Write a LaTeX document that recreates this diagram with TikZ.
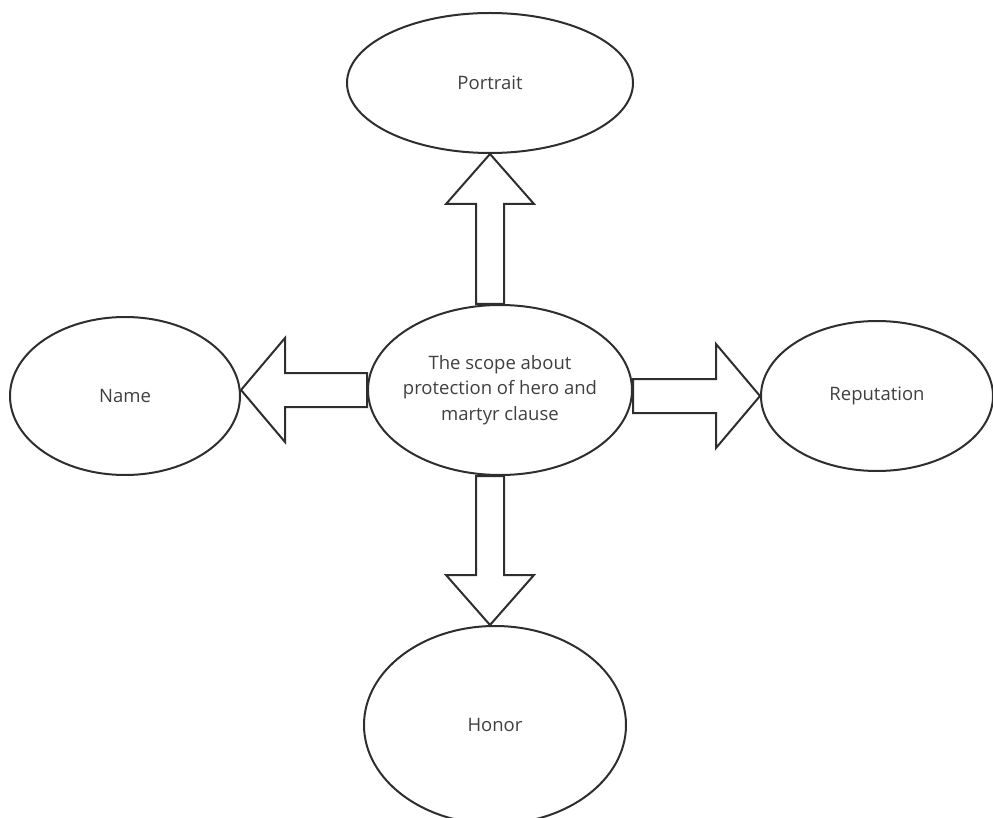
\documentclass[tikz,border=0pt]{standalone}
\usepackage{fontspec}
\setmainfont{Open Sans}
\usepackage{tikz}
\usetikzlibrary{calc,shapes.geometric}
\definecolor{edgegray}{HTML}{2E2E2E}
\definecolor{textgray}{HTML}{404040}
\tikzset{font=\fontsize{18.5}{25.5}\selectfont}
\tikzstyle{bubble}=[ellipse,draw=edgegray,line width=2pt,inner sep=0pt,text=textgray,align=center]
\tikzset{blockarrow/.style n args={3}{draw=edgegray,fill=white,line width=2pt,line join=miter,
  to path={($(\tikztotarget)!#3!(\tikztostart)$) coordinate (hb)
    ($(\tikztostart)!#1!90:(\tikztotarget)$)
    -- ($(hb)!#1!90:(\tikztotarget)$)
    -- ($(hb)!#2!90:(\tikztotarget)$)
    -- (\tikztotarget)
    -- ($(hb)!#2!-90:(\tikztotarget)$)
    -- ($(hb)!#1!-90:(\tikztotarget)$)
    -- ($(\tikztostart)!#1!-90:(\tikztotarget)$)
    -- cycle}}}

\begin{document}
\begin{tikzpicture}
  [x=1pt,y=-1pt]
\useasboundingbox (0,0) rectangle (993,818);
\node[bubble,inner xsep=-8pt,minimum width=264pt,minimum height=170pt] (scope) at (500,390)
  {The scope about\\protection of hero and\\martyr clause};
\node[bubble,minimum width=286pt,minimum height=140pt] (portrait) at (490,83) {Portrait};
\node[bubble,minimum width=230pt,minimum height=158pt] (name) at (125,396) {Name};
\node[bubble,minimum width=232pt,minimum height=150pt] (reput) at (877,396) {Reputation};
\node[bubble,minimum width=262pt,minimum height=198pt] (honor) at (495,725) {Honor};
\path
(portrait.south |- scope.north) edge[blockarrow={14pt}{44pt}{50pt}] (portrait.south)
(portrait.south |- scope.south) edge[blockarrow={14pt}{44pt}{50pt}] (portrait.south |- honor.north)
(scope.west) edge[blockarrow={17pt}{52pt}{44pt}] (scope.west -| name.east)
(scope.east |- reput.west) edge[blockarrow={17pt}{52pt}{44pt}] (reput.west);
\end{tikzpicture}
\end{document}
